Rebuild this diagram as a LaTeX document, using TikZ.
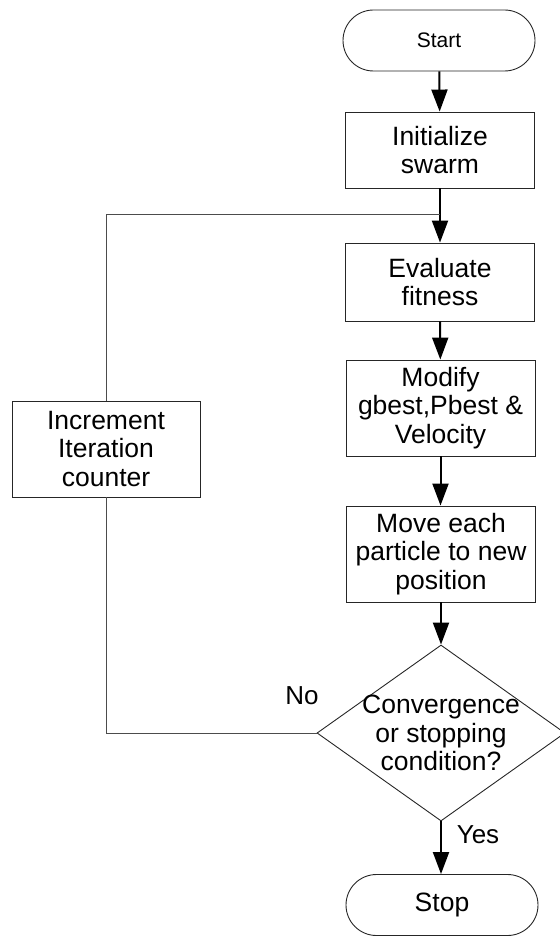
\documentclass[tikz,border=0pt]{standalone}
\usepackage{fontspec}
\setmainfont{Liberation Sans}
\usetikzlibrary{shapes.geometric,shapes.misc,arrows.meta}
\begin{document}
\begin{tikzpicture}[x=1pt,y=-1pt,
  every node/.style={font=\fontsize{26.5}{28.5}\selectfont, align=center, inner sep=0pt},
  procbox/.style={draw=black!85, line width=0.9pt, rectangle, minimum width=189pt},
  termbox/.style={draw=black!85, line width=0.9pt, rounded rectangle, minimum width=192pt, minimum height=61pt},
  decbox/.style={draw=black!85, line width=0.9pt, diamond, minimum width=248pt, minimum height=176pt},
  arr/.style={line width=2pt, -{Triangle[length=22pt,width=16pt]}},
  thinline/.style={line width=0.9pt, draw=black!70},
  lbl/.style={font=\fontsize{26}{28}\selectfont}
]
\useasboundingbox (0,0) rectangle (559,936);
\node[termbox, font=\fontsize{21}{24}\selectfont] (start) at (439,40.5) {Start};
\node[procbox, minimum height=76pt] (init) at (440,150) {Initialize\\swarm};
\node[procbox, minimum height=78pt] (eval) at (440,282) {Evaluate\\fitness};
\node[procbox, minimum height=96pt] (mod) at (440.5,408) {Modify\\gbest,Pbest \&\\Velocity};
\node[procbox, minimum height=96pt] (move) at (441,554) {Move each\\particle to new\\position};
\node[decbox] (dec) at (441,733) {};
\node (dectext) at (dec.center) {Convergence\\or stopping\\condition?};
\node[termbox] (stop) at (442,905) {Stop};
\node[procbox, minimum width=188pt, minimum height=96pt] (inc) at (106,449) {Increment\\Iteration\\counter};
\coordinate (join) at (440,214);
\node[lbl] (no) at (302,696) {No};
\node[lbl] (yes) at (478,835) {Yes};

\draw[arr] (start) -- (init);
\draw[arr] (init) -- (eval);
\draw[arr] (eval) -- (mod);
\draw[arr] (mod.south) -- (mod.south |- move.north);
\draw[arr] (move.south) -- (move.south |- dec.north);
\draw[arr] (dec.south) -- (dec.south |- stop.north);
\draw[thinline] (dec.west) -| (inc.south);
\draw[thinline] (inc.north) |- (join);
\end{tikzpicture}
\end{document}
